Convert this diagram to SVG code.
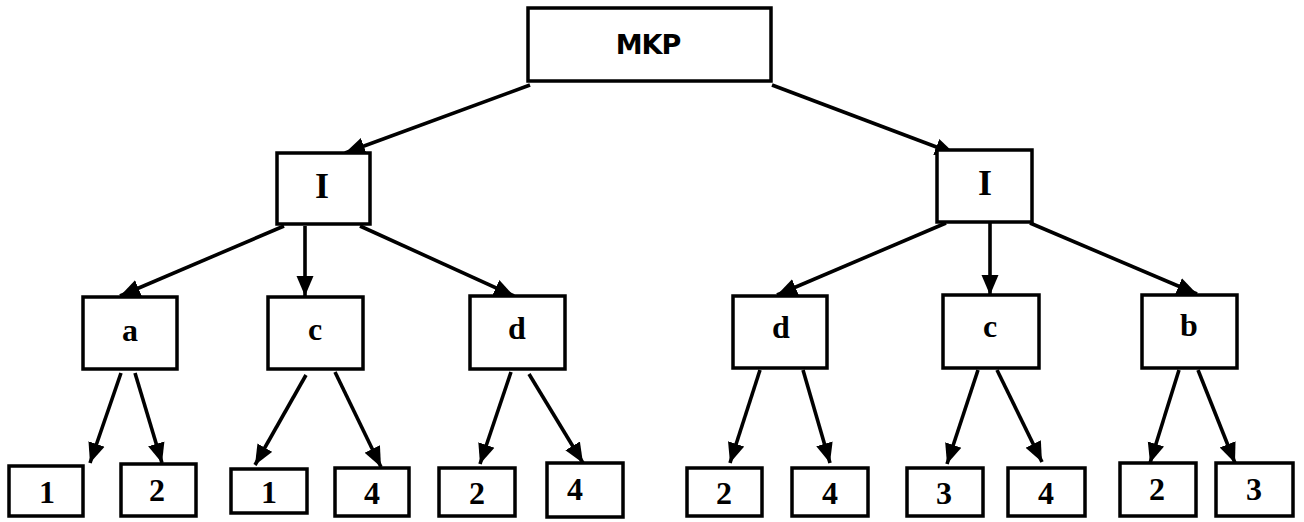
<svg xmlns="http://www.w3.org/2000/svg" width="1304" height="522" viewBox="0 0 1304 522">
<style>
.box{fill:#fff;stroke:#000;stroke-width:3.5}
.t{font-family:"Liberation Serif","Times New Roman",serif;font-weight:bold;font-size:32px;text-anchor:middle;fill:#000}
.ti{font-size:36px}
.tm{font-family:"DejaVu Sans","Liberation Sans",sans-serif;font-weight:bold;font-size:27px;text-anchor:middle;fill:#000;letter-spacing:-1px}
.c line{stroke:#000;stroke-width:3.6;marker-end:url(#ah)}
</style>
<defs>
<marker id="ah" markerUnits="userSpaceOnUse" markerWidth="22" markerHeight="20" refX="20" refY="9" orient="auto">
<path d="M0,0.5 L20,9 L0,17.5 z" fill="#000"/>
</marker>
</defs>
<rect width="1304" height="522" fill="#fff"/>
<g class="c" id="connectors">
<line x1="530" y1="85" x2="345" y2="153"/>
<line x1="772" y1="85" x2="955" y2="154"/>
<line x1="284" y1="226" x2="120" y2="296"/>
<line x1="305" y1="226" x2="305" y2="296"/>
<line x1="360" y1="226" x2="514" y2="296"/>
<line x1="946" y1="223" x2="777" y2="295"/>
<line x1="990" y1="223" x2="990" y2="295"/>
<line x1="1030" y1="223" x2="1197" y2="294"/>
<line x1="121" y1="373" x2="90" y2="463"/>
<line x1="135" y1="373" x2="162" y2="463"/>
<line x1="306" y1="375" x2="255" y2="465"/>
<line x1="335" y1="372" x2="381" y2="467"/>
<line x1="511" y1="372" x2="480" y2="464"/>
<line x1="529" y1="374" x2="583" y2="463"/>
<line x1="760" y1="370" x2="730" y2="463"/>
<line x1="803" y1="370" x2="830" y2="463"/>
<line x1="978" y1="370" x2="947" y2="464"/>
<line x1="997" y1="370" x2="1042" y2="462"/>
<line x1="1179" y1="370" x2="1150" y2="463"/>
<line x1="1198" y1="370" x2="1235" y2="463"/>
</g>
<g id="mkp"><rect class="box" x="528" y="8" width="243" height="73"/><text class="tm" x="648" y="54">MKP</text></g>
<g id="i-left"><rect class="box" x="277" y="153" width="93" height="71"/><text class="t ti" x="322" y="198">I</text></g>
<g id="i-right"><rect class="box" x="937" y="150" width="95" height="72"/><text class="t ti" x="985" y="195">I</text></g>
<g id="n-a"><rect class="box" x="83" y="297" width="94" height="72"/><text class="t" x="130" y="341">a</text></g>
<g id="n-c1"><rect class="box" x="268" y="297" width="95" height="72"/><text class="t" x="315" y="340">c</text></g>
<g id="n-d1"><rect class="box" x="470" y="296" width="95" height="73"/><text class="t" x="517" y="339">d</text></g>
<g id="n-d2"><rect class="box" x="733" y="296" width="94" height="72"/><text class="t" x="781" y="338">d</text></g>
<g id="n-c2"><rect class="box" x="943" y="295" width="96" height="73"/><text class="t" x="990" y="337">c</text></g>
<g id="n-b"><rect class="box" x="1142" y="295" width="95" height="73"/><text class="t" x="1189" y="336">b</text></g>
<g id="l1"><rect class="box" x="9" y="466" width="74" height="50"/><text class="t" x="47" y="503">1</text></g>
<g id="l2"><rect class="box" x="121" y="464" width="75" height="52"/><text class="t" x="157" y="501">2</text></g>
<g id="l3"><rect class="box" x="231" y="469" width="76" height="44"/><text class="t" x="269" y="503">1</text></g>
<g id="l4"><rect class="box" x="335" y="468" width="74" height="48"/><text class="t" x="372" y="504">4</text></g>
<g id="l5"><rect class="box" x="439" y="468" width="76" height="48"/><text class="t" x="477" y="504">2</text></g>
<g id="l6"><rect class="box" x="547" y="463" width="76" height="54"/><text class="t" x="575" y="500">4</text></g>
<g id="l7"><rect class="box" x="687" y="468" width="75" height="48"/><text class="t" x="724" y="504">2</text></g>
<g id="l8"><rect class="box" x="792" y="468" width="76" height="48"/><text class="t" x="830" y="504">4</text></g>
<g id="l9"><rect class="box" x="907" y="468" width="76" height="48"/><text class="t" x="944" y="504">3</text></g>
<g id="l10"><rect class="box" x="1008" y="468" width="77" height="48"/><text class="t" x="1046" y="504">4</text></g>
<g id="l11"><rect class="box" x="1120" y="463" width="76" height="53"/><text class="t" x="1157" y="500">2</text></g>
<g id="l12"><rect class="box" x="1216" y="463" width="77" height="53"/><text class="t" x="1254" y="500">3</text></g>
</svg>
